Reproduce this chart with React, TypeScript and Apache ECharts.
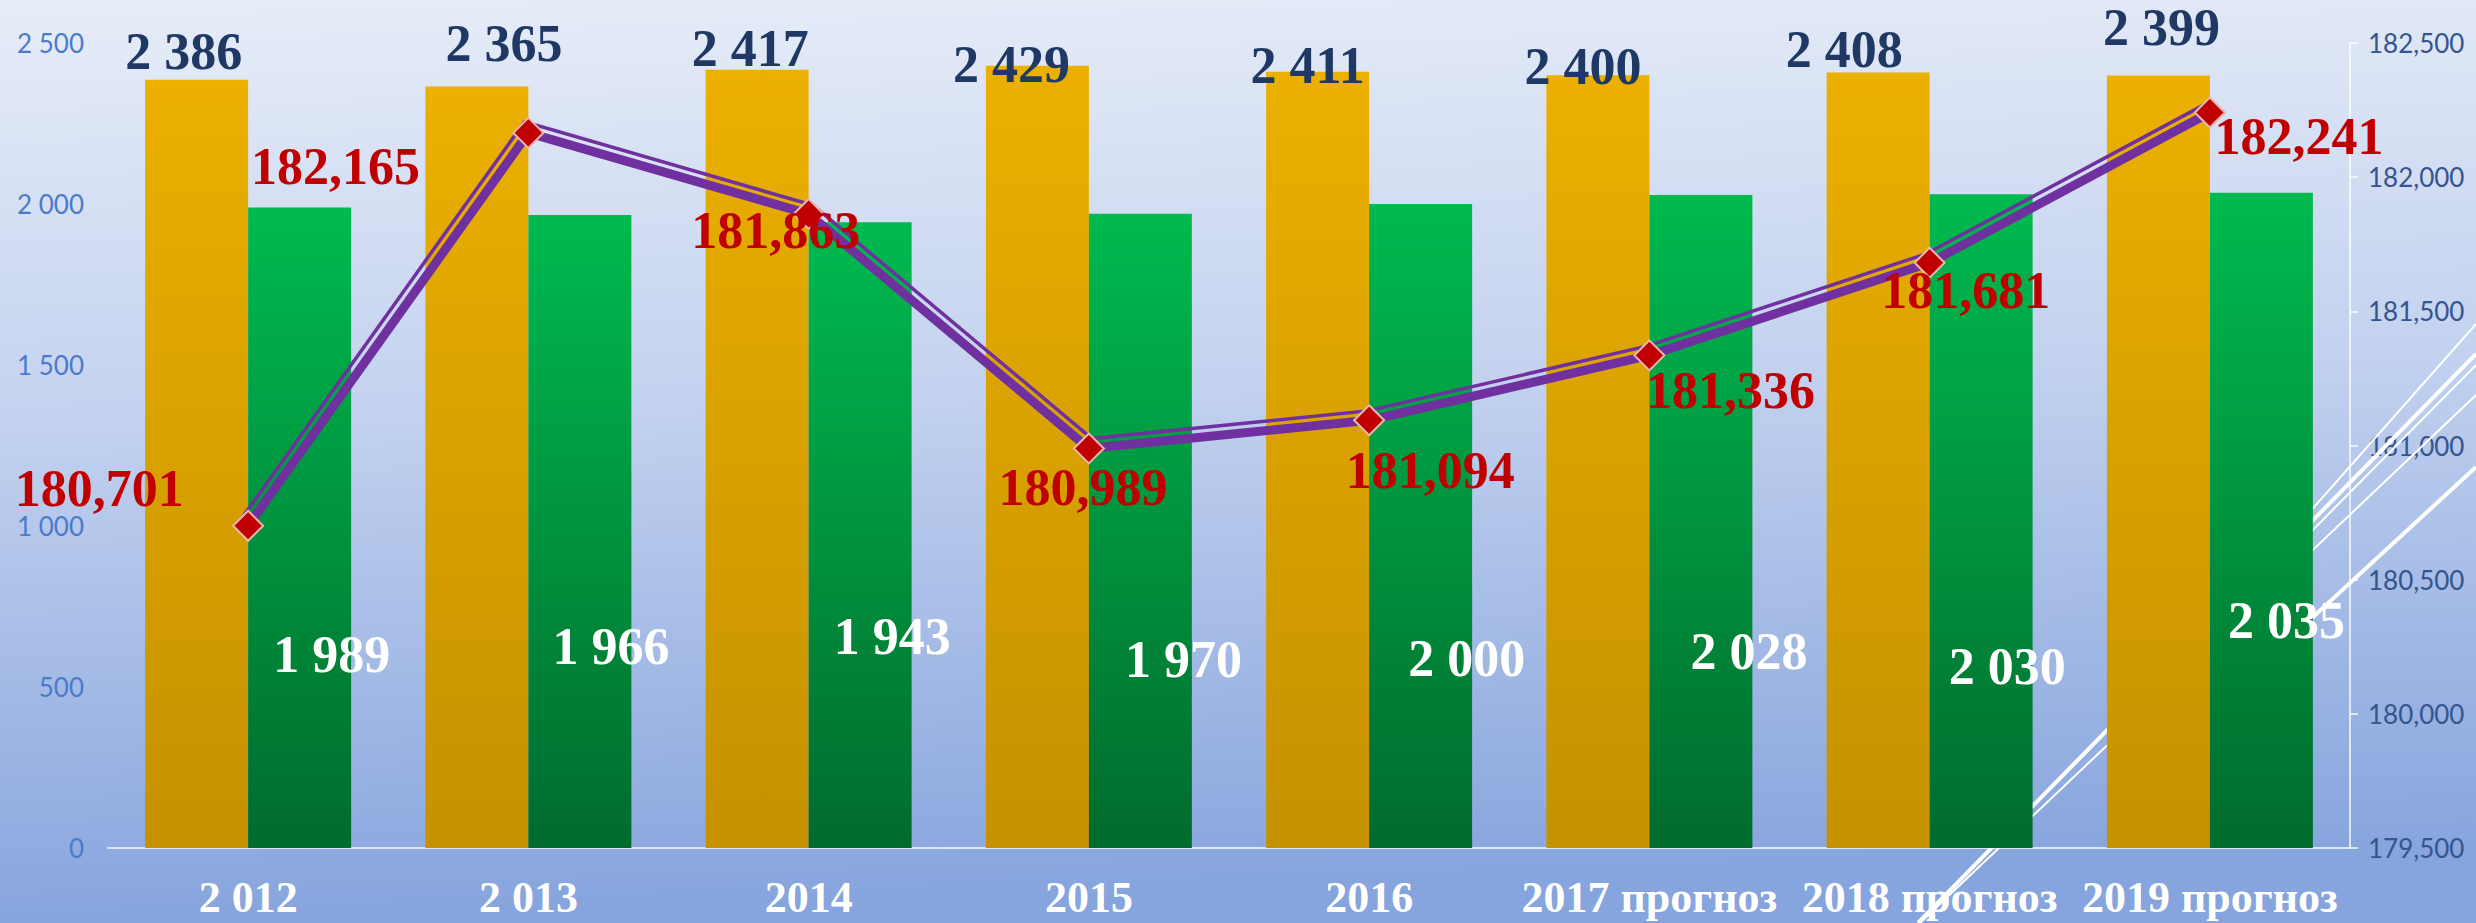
import React, { useEffect, useRef } from 'react';
import * as echarts from 'echarts';

// ---- data ----
const categories = ['2 012', '2 013', '2014', '2015', '2016', '2017 прогноз', '2018 прогноз', '2019 прогноз'];
const goldValues = [2386, 2365, 2417, 2429, 2411, 2400, 2408, 2399];
const greenValues = [1989, 1966, 1943, 1970, 2000, 2028, 2030, 2035];
const lineValues = [180701, 182165, 181863, 180989, 181094, 181336, 181681, 182241];

const leftAxis = { min: 0, max: 2500, interval: 500 };
const rightAxis = { min: 179500, max: 182500, interval: 500 };

// ---- label placement (style, not data) ----
const goldLabelShift = [[-13, -28], [27, -43], [-7, -21], [-26, -1], [-10, -6], [-15, -9], [-34, -23], [3, -48]];
const greenLabelShift = [[32, 127], [31, 115], [32, 101], [43, 129], [46, 132], [48, 130], [26, 145], [25, 100]];
const lineLabelShift = [[-149, -37], [-193, 34], [-33, 17], [-6, 39], [61, 50], [81, 35], [36, 28], [89, 24]];

const SERIF = '"Liberation Serif", "Times New Roman", serif';
const SANS = 'Lato, "Noto Sans", sans-serif';

function fmt(v: number, sep: string): string {
  const n = Math.round(v);
  if (Math.abs(n) < 1000) return String(n);
  const th = Math.floor(n / 1000);
  const rest = String(n % 1000).padStart(3, '0');
  return th + sep + rest;
}

export default function App() {
  const ref = useRef<HTMLDivElement>(null);

  useEffect(() => {
    if (!ref.current) return;
    const chart = echarts.init(ref.current, undefined, { renderer: 'svg' });

    const LABEL_FS = 52;

    const goldData = goldValues.map((v, i) => ({
      value: v,
      label: { offset: [goldLabelShift[i][0], goldLabelShift[i][1] + LABEL_FS / 2] },
    }));
    const greenData = greenValues.map((v, i) => ({
      value: v,
      label: { offset: greenLabelShift[i] },
    }));
    const lineData = lineValues.map((v, i) => ({
      value: v,
      label: { offset: lineLabelShift[i] },
    }));

    const thinOffset = 9.5;

    const option: any = {
      animation: false,
      backgroundColor: new echarts.graphic.LinearGradient(0, 0, 0.08, 1, [
        { offset: 0, color: '#E7EDF8' },
        { offset: 0.45, color: '#C3D2EF' },
        { offset: 1, color: '#86A4DD' },
      ]),
      grid: { left: 108, right: 126, top: 43, bottom: 75 },
      xAxis: {
        type: 'category',
        data: categories,
        axisLine: { show: true, lineStyle: { color: 'rgba(235,240,250,0.85)', width: 2 } },
        axisTick: { show: false },
        axisLabel: {
          color: '#FFFFFF',
          fontFamily: SERIF,
          fontWeight: 'bold',
          fontSize: 44,
          lineHeight: 44,
          margin: 27,
          interval: 0,
        },
        splitLine: { show: false },
      },
      yAxis: [
        {
          type: 'value',
          min: leftAxis.min,
          max: leftAxis.max,
          interval: leftAxis.interval,
          axisLine: { show: false },
          axisTick: { show: false },
          splitLine: { show: false },
          axisLabel: {
            color: '#4A7BCB',
            fontFamily: SANS,
            fontSize: 26,
            margin: 24,
            formatter: (v: number) => fmt(v, ' '),
          },
        },
        {
          type: 'value',
          position: 'right',
          min: rightAxis.min,
          max: rightAxis.max,
          interval: rightAxis.interval,
          axisLine: { show: true, lineStyle: { color: 'rgba(255,255,255,0.7)', width: 2 } },
          axisTick: { show: true, length: 8, lineStyle: { color: 'rgba(255,255,255,0.7)', width: 2 } },
          splitLine: { show: false },
          axisLabel: {
            color: '#35558F',
            fontFamily: SANS,
            fontSize: 26,
            margin: 18,
            formatter: (v: number) => fmt(v, ','),
          },
        },
      ],
      graphic: [
        { type: 'line', z: 1, silent: true, shape: { x1: 2200, y1: 636, x2: 2476, y2: 324 }, style: { stroke: '#FFFFFF', lineWidth: 2 } },
        { type: 'line', z: 1, silent: true, shape: { x1: 1918, y1: 923, x2: 2476, y2: 354 }, style: { stroke: '#FFFFFF', lineWidth: 4 } },
        { type: 'line', z: 1, silent: true, shape: { x1: 2200, y1: 644, x2: 2476, y2: 365 }, style: { stroke: '#FFFFFF', lineWidth: 2 } },
        { type: 'line', z: 1, silent: true, shape: { x1: 1920, y1: 923, x2: 2476, y2: 395 }, style: { stroke: '#FFFFFF', lineWidth: 2 } },
        { type: 'line', z: 1, silent: true, shape: { x1: 2250, y1: 675, x2: 2476, y2: 467 }, style: { stroke: '#FFFFFF', lineWidth: 4 } },
      ],
      series: [
        {
          type: 'bar',
          yAxisIndex: 0,
          data: goldData,
          barWidth: 103,
          barGap: '0%',
          z: 2,
          itemStyle: {
            color: new echarts.graphic.LinearGradient(0, 0, 0, 1, [
              { offset: 0, color: '#EBB000' },
              { offset: 1, color: '#C59100' },
            ]),
          },
          label: {
            show: true,
            position: 'top',
            distance: 0,
            color: '#1F3864',
            fontFamily: SERIF,
            fontWeight: 'bold',
            fontSize: LABEL_FS,
            lineHeight: LABEL_FS,
            formatter: (p: any) => fmt(p.value, ' '),
          },
        },
        {
          type: 'bar',
          yAxisIndex: 0,
          data: greenData,
          barWidth: 103,
          barGap: '0%',
          z: 2,
          itemStyle: {
            color: new echarts.graphic.LinearGradient(0, 0, 0, 1, [
              { offset: 0, color: '#00BA4F' },
              { offset: 1, color: '#006B2D' },
            ]),
          },
          label: {
            show: true,
            position: 'inside',
            color: '#FFFFFF',
            fontFamily: SERIF,
            fontWeight: 'bold',
            fontSize: LABEL_FS,
            lineHeight: LABEL_FS,
            formatter: (p: any) => fmt(p.value, ' '),
          },
        },
        {
          type: 'custom',
          yAxisIndex: 1,
          z: 3,
          silent: true,
          clip: false,
          data: [[0, lineValues[0]]],
          renderItem: (_params: any, api: any) => {
            const pts = lineValues.map((v, i) => api.coord([i, v]));
            const normals: number[][] = [];
            for (let i = 0; i < pts.length - 1; i++) {
              const dx = pts[i + 1][0] - pts[i][0];
              const dy = pts[i + 1][1] - pts[i][1];
              const L = Math.hypot(dx, dy) || 1;
              normals.push([dy / L, -dx / L]);
            }
            const shifted = pts.map((p: number[], i: number) => {
              let n: number[];
              if (i === 0) n = normals[0];
              else if (i === pts.length - 1) n = normals[normals.length - 1];
              else {
                const a = normals[i - 1];
                const b = normals[i];
                const m = [a[0] + b[0], a[1] + b[1]];
                const ml = Math.hypot(m[0], m[1]) || 1;
                const mu = [m[0] / ml, m[1] / ml];
                const k = 1 / Math.max(0.3, mu[0] * a[0] + mu[1] * a[1]);
                n = [mu[0] * k, mu[1] * k];
              }
              return [p[0] + n[0] * thinOffset, p[1] + n[1] * thinOffset];
            });
            return {
              type: 'polyline',
              shape: { points: shifted },
              style: { stroke: '#7030A0', lineWidth: 3.5, fill: null },
            };
          },
        },
        {
          type: 'line',
          yAxisIndex: 1,
          data: lineData,
          z: 4,
          symbol: 'diamond',
          symbolSize: 30,
          lineStyle: { color: '#7030A0', width: 9 },
          itemStyle: { color: '#C00000', borderColor: '#E8B8B0', borderWidth: 2 },
          label: {
            show: true,
            position: 'inside',
            color: '#C00000',
            fontFamily: SERIF,
            fontWeight: 'bold',
            fontSize: LABEL_FS,
            lineHeight: LABEL_FS,
            formatter: (p: any) => fmt(p.value, ','),
          },
        },
      ],
    };

    chart.setOption(option);
    return () => chart.dispose();
  }, []);

  return (
    <div
      ref={ref}
      style={{ position: 'fixed', left: 0, top: 0, width: 2476, height: 923 }}
    />
  );
}
